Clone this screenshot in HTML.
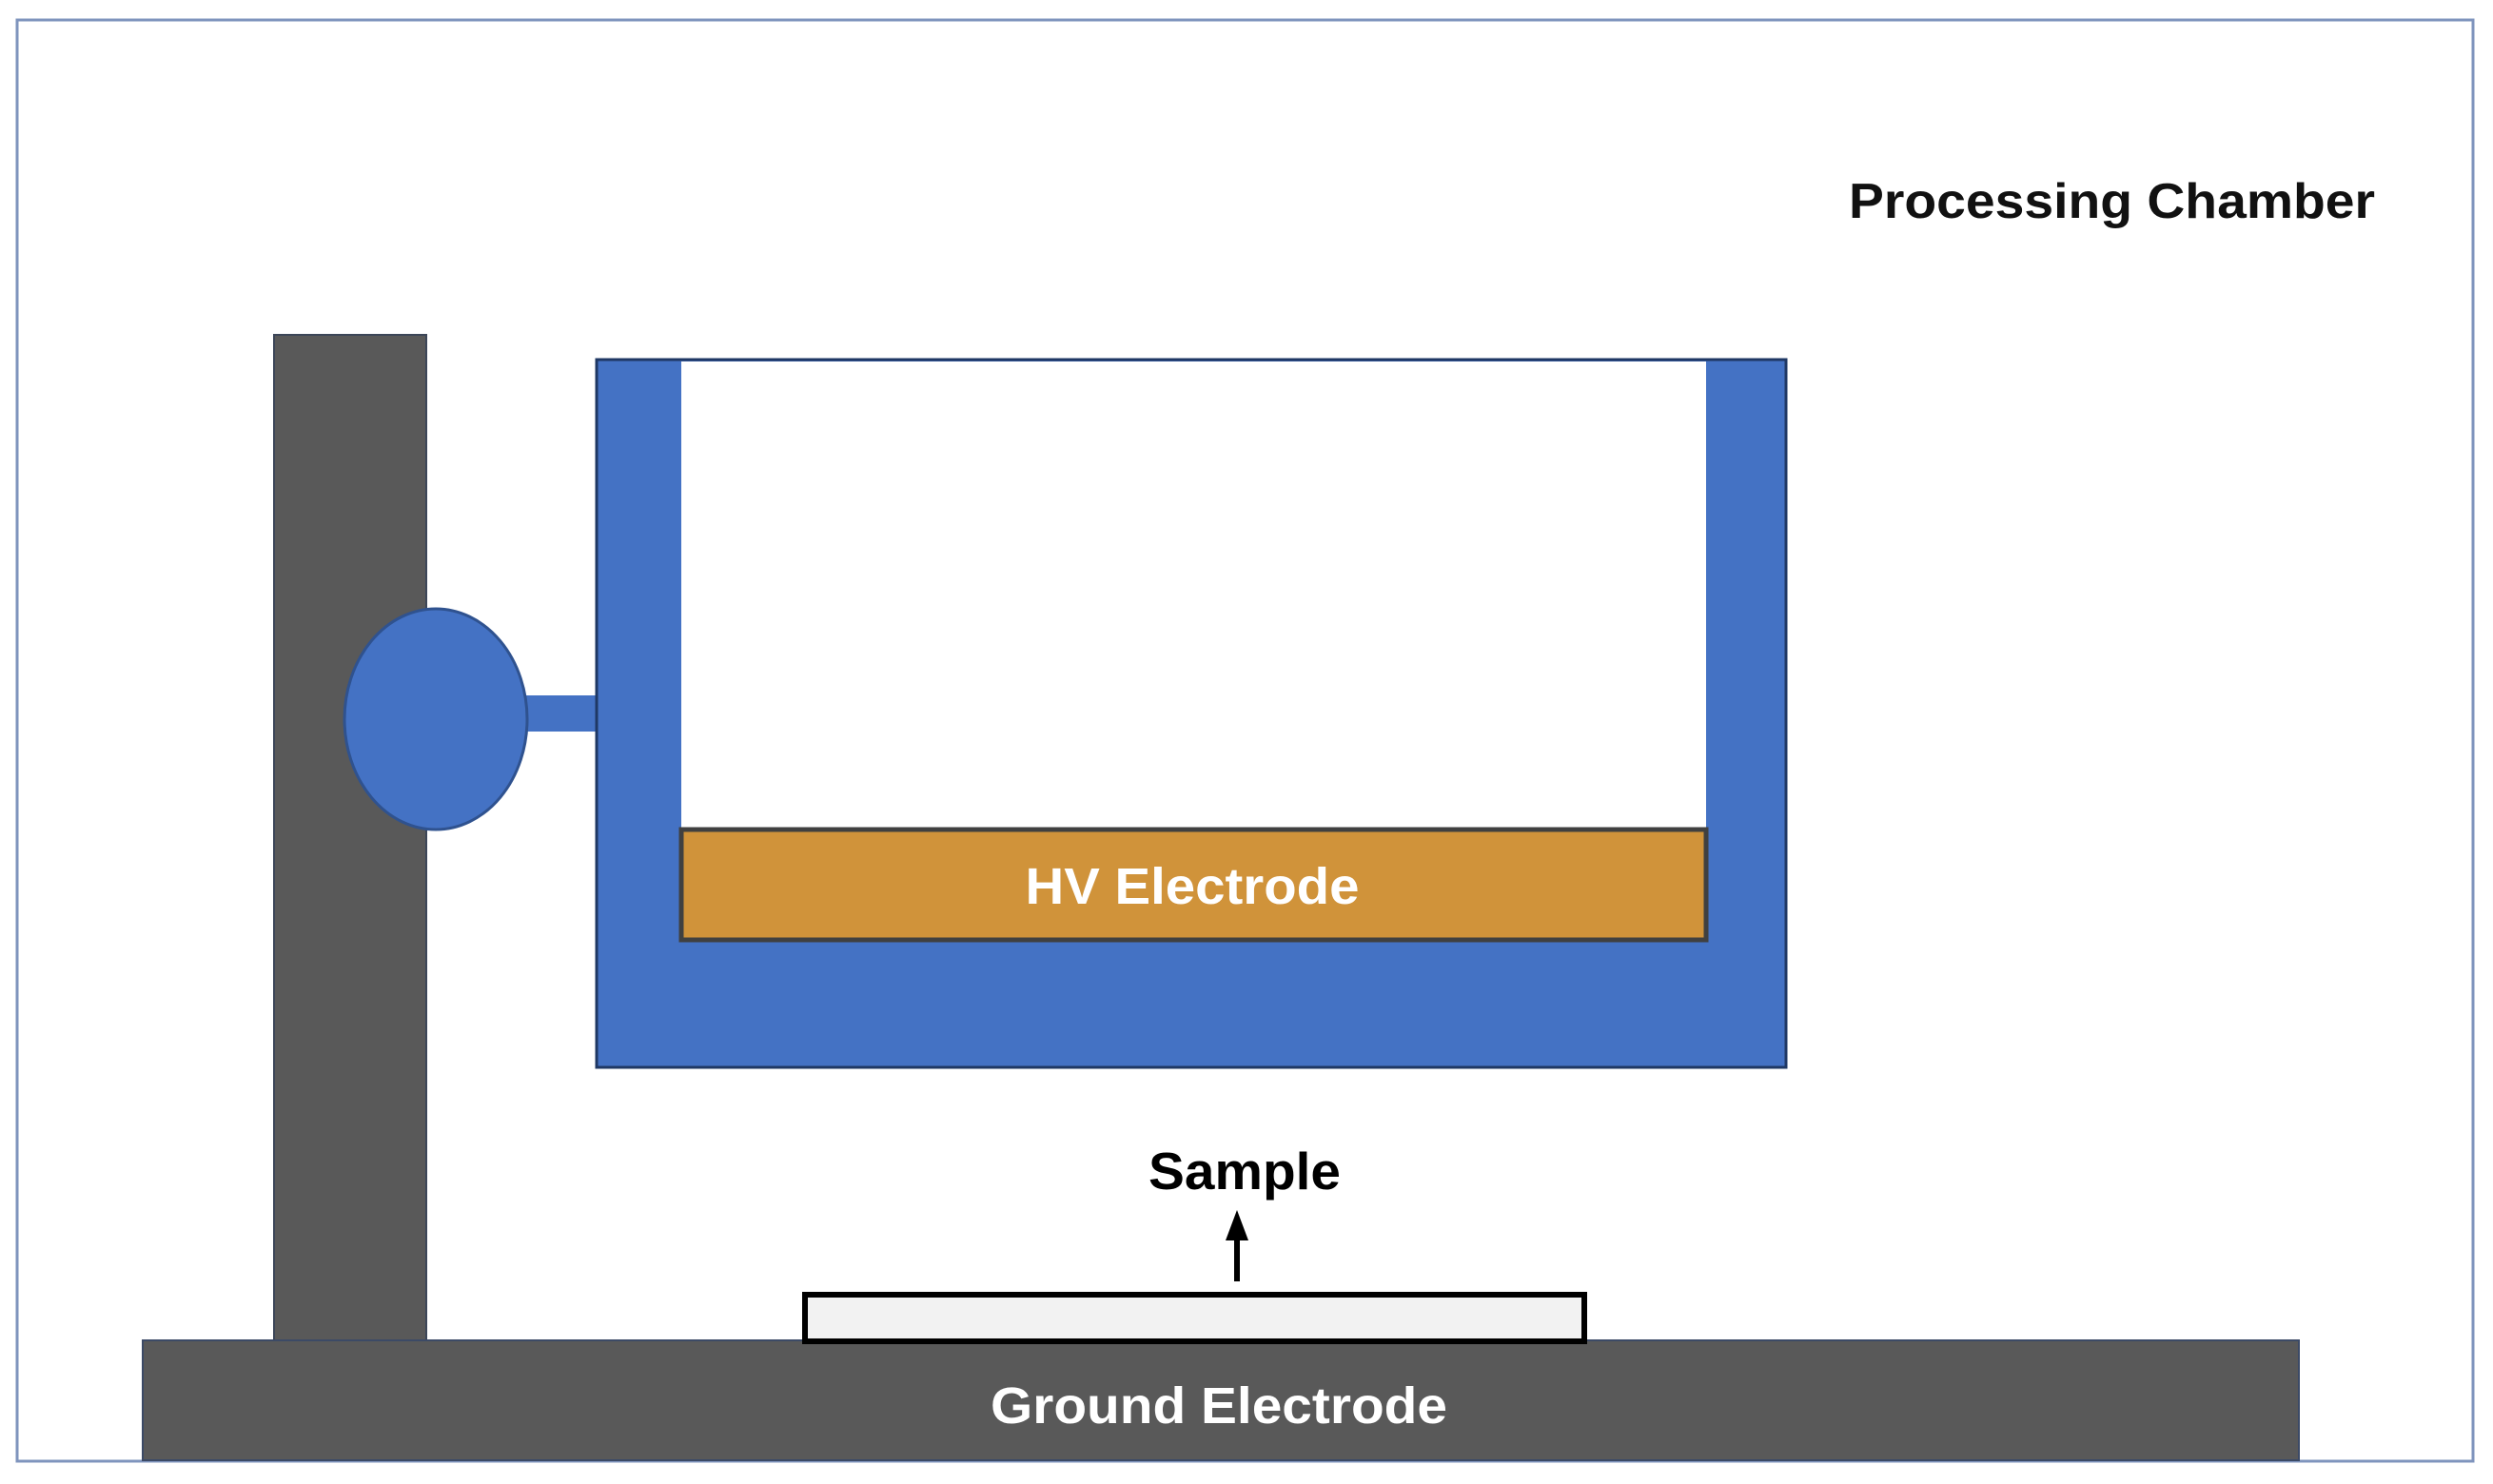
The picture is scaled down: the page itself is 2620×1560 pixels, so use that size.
<!DOCTYPE html>
<html><head><meta charset="utf-8"><style>html,body{margin:0;padding:0;background:#fff}</style></head>
<body>
<svg width="2620" height="1555" viewBox="0 0 2620 1555" xmlns="http://www.w3.org/2000/svg" font-family="Liberation Sans, sans-serif" font-weight="bold">
<rect x="0" y="0" width="2620" height="1555" fill="#fff"/>
<rect x="18" y="21" width="2581" height="1515" fill="none" stroke="#7f94bd" stroke-width="3"/>
<text x="1943" y="229" font-size="52" fill="#111" textLength="553" lengthAdjust="spacingAndGlyphs">Processing Chamber</text>
<rect x="288" y="352" width="160" height="1060" fill="#595959" stroke="#3c4658" stroke-width="2"/>
<rect x="550" y="731" width="80" height="38" fill="#4472c4"/>
<ellipse cx="458" cy="756" rx="96" ry="116" fill="#4472c4" stroke="#2f528f" stroke-width="3"/>
<path d="M627 378 H1877 V1122 H627 Z" fill="#4472c4" stroke="#1f3864" stroke-width="3"/>
<rect x="716" y="380" width="1077" height="492" fill="#fff"/>
<rect x="716" y="872" width="1077" height="116" fill="#d0933a" stroke="#404040" stroke-width="5"/>
<text x="1253" y="950" font-size="54" fill="#fff" text-anchor="middle" textLength="351" lengthAdjust="spacingAndGlyphs">HV Electrode</text>
<rect x="150" y="1409" width="2266" height="126" fill="#595959" stroke="#3c4a66" stroke-width="2"/>
<text x="1281" y="1496" font-size="54" fill="#fff" text-anchor="middle" textLength="480" lengthAdjust="spacingAndGlyphs">Ground Electrode</text>
<rect x="846" y="1361" width="819" height="49" fill="#f2f2f2" stroke="#000" stroke-width="6"/>
<line x1="1300" y1="1347" x2="1300" y2="1300" stroke="#000" stroke-width="6"/>
<polygon points="1300,1272 1288,1304 1312,1304" fill="#000"/>
<text x="1308" y="1250" font-size="55" fill="#000" text-anchor="middle" textLength="202" lengthAdjust="spacingAndGlyphs">Sample</text>
</svg>
</body></html>
